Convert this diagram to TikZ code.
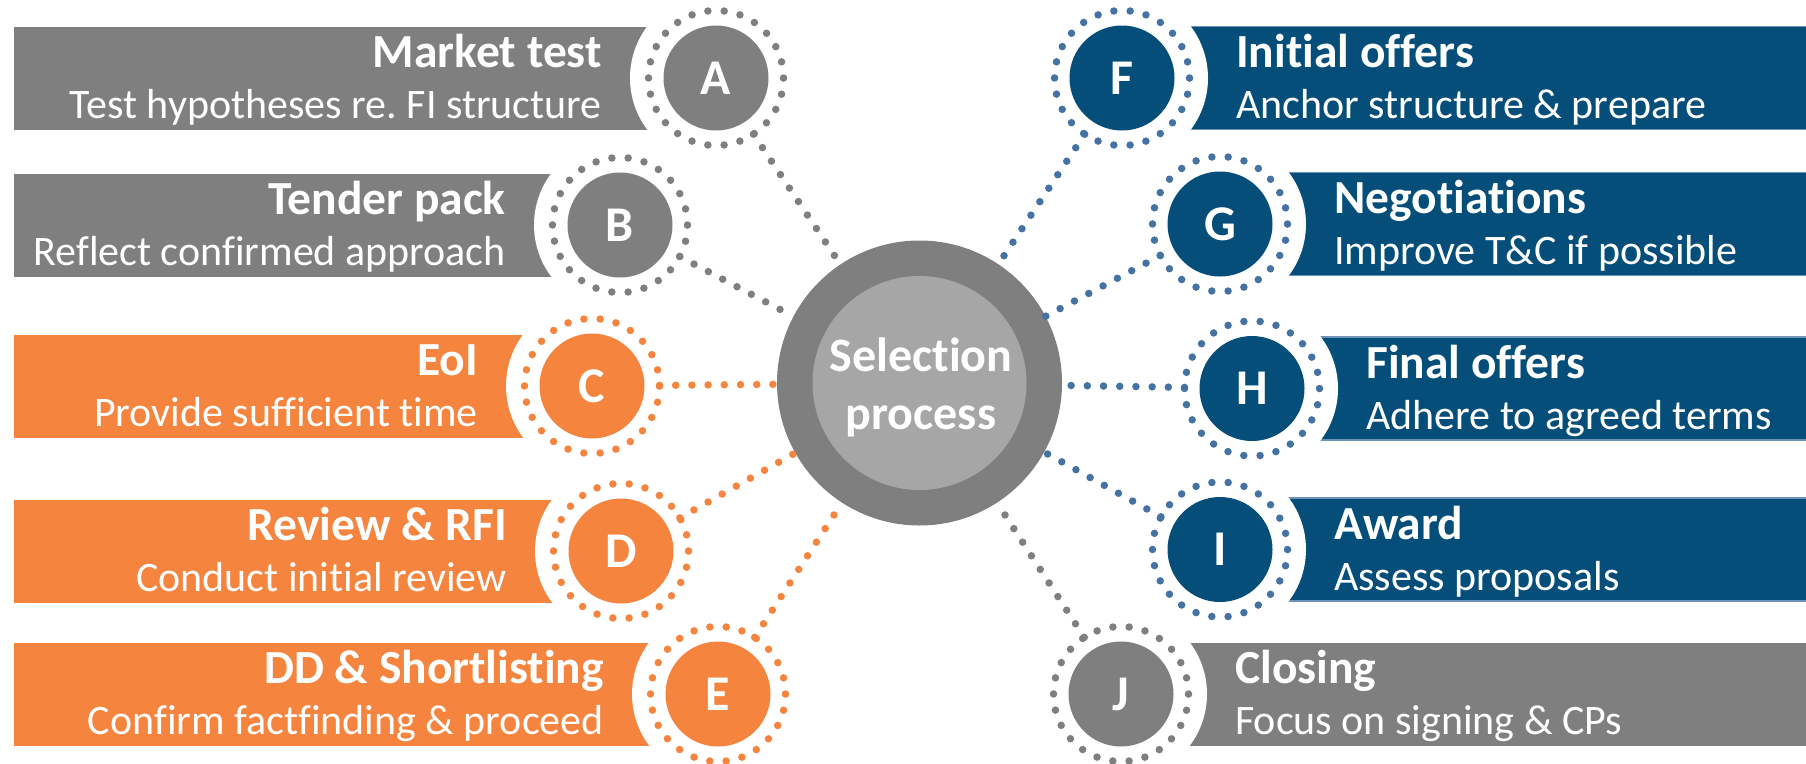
\documentclass[tikz,border=0pt]{standalone}
\usepackage{fontspec}
\setmainfont{Carlito}[Ligatures={NoCommon}]
\frenchspacing
\definecolor{cgray}{RGB}{127,127,127}
\definecolor{clight}{RGB}{166,166,166}
\definecolor{corange}{RGB}{244,132,62}
\definecolor{cblue}{RGB}{4,78,121}
\definecolor{cbluedot}{RGB}{68,114,163}
\definecolor{cblueedge}{RGB}{110,146,186}
\tikzset{
  ttl/.style={font=\fontsize{47.5}{57}\selectfont\bfseries, text=white, inner sep=0pt},
  sub/.style={font=\fontsize{42}{50}\selectfont, text=white, inner sep=0pt},
  letter/.style={circle, minimum size=105pt, inner sep=0pt, outer sep=0pt, text=white, font=\fontsize{50}{60}\selectfont\bfseries},
  ringc/.style={circle, minimum size=135pt, inner sep=0pt, outer sep=0pt, line width=7.5pt, line cap=round, dash pattern=on 0pt off 16.31pt},
  halo/.style={circle, fill=white, minimum size=172pt, inner sep=0pt, outer sep=0pt},
  conn/.style={line width=7.5pt, line cap=round, dash pattern=on 0pt off 16.2pt},
  centretext/.style={font=\fontsize{48}{57}\selectfont\bfseries, text=white, anchor=base, inner sep=0pt},
  barG/.style={fill=cgray},
  barO/.style={fill=corange},
  barB/.style={fill=cblue, draw=cblueedge, line width=1.5pt},
}
% #1 name, #2 cx, #3 cy, #4 bar style, #5 fill colour, #6 dot colour, #7 title, #8 subtitle
\newcommand\itemLeft[8]{%
  \path[#4] (14,#3-51.5) rectangle (#2,#3+51.5);
  \node[halo] (#1h) at (#2,#3) {};
  \node[ringc, draw=#6] (#1r) at (#2,#3) {};
  \draw[conn, draw=#6] (#1r) -- (S);
  \node[letter, fill=#5] (#1) at (#2,#3) {#1};
  \node[ttl, anchor=base east] (#1t) at (#2-114,#3-10.5) {#7};
  \node[sub, anchor=base east] (#1s) at (#2-114,#3+40.5) {#8};
}
\newcommand\itemRight[8]{%
  \path[#4] (#2,#3-51.5) rectangle (1808,#3+51.5);
  \node[halo] (#1h) at (#2,#3) {};
  \node[ringc, draw=#6] (#1r) at (#2,#3) {};
  \draw[conn, draw=#6] (#1r) -- (S);
  \node[letter, fill=#5] (#1) at (#2,#3) {#1};
  \node[ttl, anchor=base west] (#1t) at (#2+114,#3-10.5) {#7};
  \node[sub, anchor=base west] (#1s) at (#2+114,#3+40.5) {#8};
}
\begin{document}
\begin{tikzpicture}[x=1pt,y=-1pt]
\useasboundingbox (0,0) rectangle (1806,763);
% centre
\node[circle, fill=cgray, minimum size=285pt, inner sep=0pt, outer sep=0pt] (S) at (919.5,383) {};
\node[circle, fill=clight, minimum size=214pt, inner sep=0pt, outer sep=0pt] (Si) at (919.5,383) {};
\node[centretext] (S1) at (921,371.5) {Selection};
\node[centretext] (S2) at (921,429) {process};
% left items
\itemLeft{A}{716}{78}{barG}{cgray}{cgray}{Market test}{Test hypotheses re. FI structure}
\itemLeft{B}{620}{225}{barG}{cgray}{cgray}{Tender pack}{Reflect confirmed approach}
\itemLeft{C}{592}{386}{barO}{corange}{corange}{EoI}{Provide sufficient time}
\itemLeft{D}{621}{551}{barO}{corange}{corange}{Review \& RFI}{Conduct initial review}
\itemLeft{E}{718}{694}{barO}{corange}{corange}{DD \& Shortlisting}{Confirm factfinding \& proceed}
% right items
\itemRight{F}{1122}{78}{barB}{cblue}{cbluedot}{Initial offers}{Anchor structure \& prepare}
\itemRight{G}{1220}{224}{barB}{cblue}{cbluedot}{Negotiations}{Improve T\&C if possible}
\itemRight{H}{1252}{388.5}{barB}{cblue}{cbluedot}{Final offers}{Adhere to agreed terms}
\itemRight{I}{1220}{549.5}{barB}{cblue}{cbluedot}{Award}{Assess proposals}
\itemRight{J}{1121}{694}{barG}{cgray}{cgray}{Closing}{Focus on signing \& CPs}
\end{tikzpicture}
\end{document}
